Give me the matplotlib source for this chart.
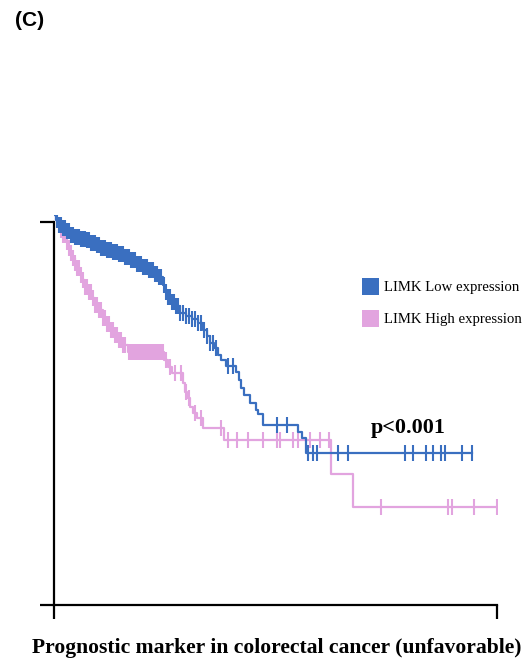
import numpy as np
import matplotlib
matplotlib.use("Agg")
import matplotlib.pyplot as plt
from matplotlib.patches import Patch

# ---- data (time in months, survival probability) ----
low_times = [0, 0.68, 1.35, 2.71, 4.06, 5.42, 6.77, 8.80, 10.84, 12.19, 14.22, 15.58, 17.61,
             19.64, 21.67, 23.70, 25.73, 27.77, 29.80, 31.83, 33.86, 35.21, 36.91, 37.58,
             38.60, 39.95, 40.97, 42.66, 44.70, 46.73, 48.76, 50.45, 51.81, 52.82, 54.18,
             55.53, 56.55, 58.24, 61.63, 62.64, 63.32, 64.33, 66.37, 68.40, 69.07, 70.77,
             82.62, 83.97, 85.33]
low_surv = [1.0, 0.987, 0.974, 0.967, 0.959, 0.949, 0.944, 0.938, 0.936, 0.928, 0.923, 0.915,
            0.910, 0.905, 0.900, 0.892, 0.885, 0.874, 0.867, 0.859, 0.849, 0.841, 0.821, 0.803,
            0.790, 0.777, 0.767, 0.749, 0.741, 0.733, 0.723, 0.705, 0.690, 0.672, 0.659,
            0.641, 0.628, 0.613, 0.597, 0.577, 0.556, 0.538, 0.518, 0.500, 0.490, 0.462,
            0.444, 0.428, 0.390]
low_end = 141.54
low_censor = [1.02, 1.69, 2.37, 3.05, 3.72, 4.40, 5.08, 5.76, 6.43, 7.11, 7.79, 8.47, 9.14,
              9.82, 10.50, 11.17, 11.85, 12.53, 13.21, 13.88, 14.56, 15.24, 15.91, 16.59,
              17.27, 17.95, 18.62, 19.30, 19.98, 20.65, 21.33, 22.01, 22.69, 23.36, 24.04,
              24.72, 25.40, 26.07, 26.75, 27.43, 28.10, 28.78, 29.46, 30.14, 30.81, 31.49,
              32.17, 32.84, 33.52, 34.20, 34.88, 35.55, 36.23, 37.25, 37.92, 38.60, 39.28,
              39.95, 40.63, 41.31, 41.99, 42.66, 43.68, 44.70, 45.71, 46.73, 47.74, 48.76,
              49.77, 50.79, 51.81, 52.82, 53.84, 54.85, 58.92, 60.61, 75.51, 78.90, 86.00,
              87.70, 89.05, 96.16, 99.55, 118.85, 121.56, 125.96, 128.33, 131.04, 132.39,
              138.15, 141.54]

high_times = [0, 0.68, 1.69, 2.37, 3.05, 4.06, 4.74, 5.42, 6.09, 7.11, 7.79, 8.80, 9.48,
              10.50, 11.51, 12.87, 13.88, 15.24, 16.59, 17.95, 18.96, 20.32, 21.67, 23.36,
              25.06, 37.25, 38.60, 39.95, 43.68, 44.36, 45.03, 46.05, 47.07, 48.42, 50.45,
              57.56, 93.79, 101.24]
high_surv = [1.0, 0.987, 0.974, 0.962, 0.949, 0.931, 0.915, 0.903, 0.890, 0.877, 0.864,
             0.846, 0.833, 0.815, 0.803, 0.787, 0.769, 0.756, 0.736, 0.721, 0.705, 0.692,
             0.679, 0.667, 0.649, 0.628, 0.610, 0.595, 0.569, 0.546, 0.531, 0.508, 0.492,
             0.479, 0.454, 0.423, 0.336, 0.251]
high_end = 150.0
high_censor = [1.02, 1.69, 2.37, 3.05, 3.72, 4.40, 5.08, 5.76, 6.43, 7.11, 7.79, 8.47, 9.14,
               9.82, 10.50, 11.17, 11.85, 12.53, 13.21, 13.88, 14.56, 15.24, 15.91, 16.59,
               17.27, 17.95, 18.62, 19.30, 19.98, 20.65, 21.33, 22.01, 22.69, 23.36, 24.04,
               25.40, 26.07, 26.75, 27.43, 28.10, 28.78, 29.46, 30.14, 30.81, 31.49, 32.17,
               32.84, 33.52, 34.20, 34.88, 35.55, 36.23, 36.91, 37.92, 39.28, 40.97, 43.00,
               44.70, 45.71, 47.74, 49.77, 56.55, 58.92, 61.96, 65.69, 70.77, 75.51, 76.52,
               80.93, 82.62, 86.68, 90.07, 93.12, 110.72, 133.41, 134.77, 142.21, 150.0]

labels = ["LIMK Low expression", "LIMK High expression"]
colors = ["#3a6fc0", "#e2a4df"]
p_text = "p<0.001"
xlabel = "Prognostic marker in colorectal cancer (unfavorable)"
panel = "(C)"
x_max = 150.0
y_top_tick = 0.982

# ---- figure ----
fig = plt.figure(figsize=(5.29, 6.65), dpi=100)
ax = fig.add_axes([54/529, 60/665, 443/529, 390/665])

def draw(times, surv, end, censor, color):
    t = list(times) + [end]
    s = list(surv) + [surv[-1]]
    ax.step(t, s, where="post", color=color, lw=1.6, zorder=3)
    idx = np.searchsorted(np.array(times), np.array(censor), side="right") - 1
    cs = np.array(surv)[idx]
    ax.plot(censor, cs, linestyle="none", marker="|", color=color,
            markersize=11, markeredgewidth=1.5, zorder=3)

draw(high_times, high_surv, high_end, high_censor, colors[1])
draw(low_times, low_surv, low_end, low_censor, colors[0])

ax.set_xlim(0, x_max)
ax.set_ylim(0, 1.0)
for side in ["top", "right"]:
    ax.spines[side].set_visible(False)
for side in ["left", "bottom"]:
    ax.spines[side].set_linewidth(1.6)
    ax.spines[side].set_color("black")
ax.spines["left"].set_bounds(0, y_top_tick)
ax.set_xticks([0, x_max])
ax.set_yticks([0, y_top_tick])
ax.set_xticklabels([])
ax.set_yticklabels([])
ax.tick_params(axis="both", length=10, width=1.6, color="black", direction="out")
for sp in ax.spines.values():
    sp.set_clip_on(False)

handles = [Patch(facecolor=c, edgecolor="none") for c in colors]
leg = ax.legend(handles, labels, loc="upper left",
                bbox_to_anchor=((362 - 54) / 443, (605 - 278) / 390),
                frameon=False, prop={"family": "Liberation Serif", "size": 10.6},
                handlelength=1.16, handleheight=1.4, labelspacing=1.0,
                handletextpad=0.34, borderpad=0, borderaxespad=0)

ax.text((408 - 54) / 443, (605 - 428) / 390, p_text, transform=ax.transAxes,
        fontsize=15.8, fontweight="bold", family="Liberation Serif",
        ha="center", va="center")

fig.text(277/529, 1 - 648/665, xlabel, fontsize=15.6, fontweight="bold",
         family="Liberation Serif", ha="center", va="center")
fig.text(15/529, 1 - 21/665, panel, fontsize=15, fontweight="bold",
         family="Liberation Sans", ha="left", va="center")

fig.savefig("out.png", dpi=100)
